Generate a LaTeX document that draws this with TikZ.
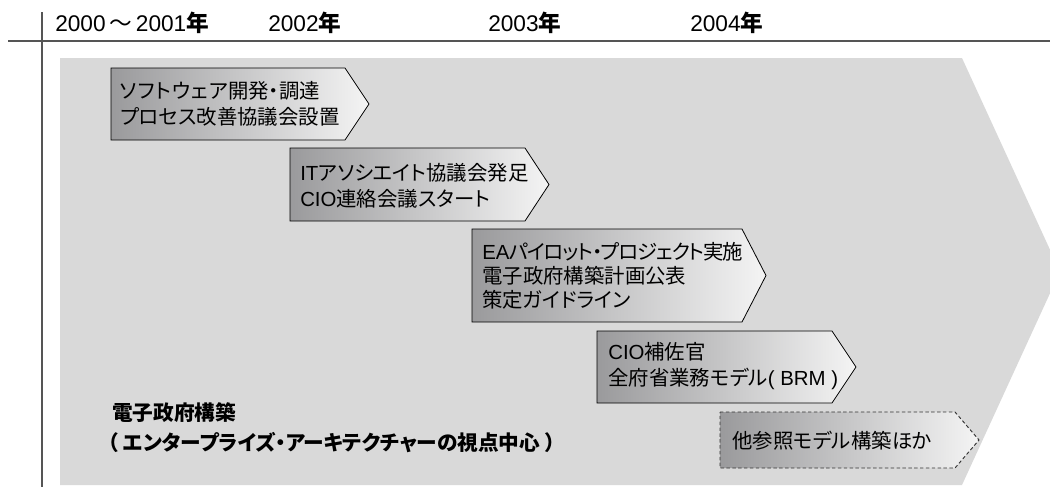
\documentclass[tikz,border=0pt]{standalone}
\usepackage{fontspec}
\setmainfont{Noto Sans CJK JP}[RawFeature=+palt]
\newfontfamily\lat{Liberation Sans}
\definecolor{bg}{HTML}{D9D9D9}
\definecolor{gl}{HTML}{9A9A9C}
\definecolor{gr}{HTML}{F4F4F4}
\definecolor{axiscol}{HTML}{555555}
\newcommand\chevron[6]{\path[#1] (#2,#3) -- (#4,#3) -- (#5,{(#3+#6)/2}) -- (#4,#6) -- (#2,#6) -- cycle;}
\tikzset{
  chev/.style={left color=gl, right color=gr, draw=black, line width=0.6pt},
  chevd/.style={left color=gl, right color=gr, draw=black!80, line width=0.7pt, dash pattern=on 2.6pt off 1.8pt},
  lbl/.style={anchor=west, align=left, inner sep=0pt, font=\fontsize{15.3pt}{19.5pt}\selectfont},
  yr/.style={anchor=west, inner sep=0pt, font=\fontsize{17pt}{19pt}\selectfont},
  ttl/.style={anchor=west, inner sep=0pt, font=\fontsize{15.5pt}{20pt}\selectfont\bfseries},
}
\begin{document}
\begin{tikzpicture}[x=0.75pt,y=-0.75pt]
\useasboundingbox (0,0) rectangle (1050,487);
\begin{scope}
\clip (0,0) rectangle (1050,487);
\fill[bg] (60,58) -- (962,58) -- (1060,271.5) -- (962,485) -- (60,485) -- cycle;
\end{scope}
\draw[axiscol, line width=0.9pt] (8,41) -- (1050,41);
\draw[axiscol, line width=0.9pt] (42,12) -- (42,487);
% years
\node[yr] (y1) at (55,23) {{\lat 2000}\,～\,{\lat 2001}\textbf{年}};
\node[yr] (y2) at (268,23) {{\lat 2002}\textbf{年}};
\node[yr] (y3) at (488,23) {{\lat 2003}\textbf{年}};
\node[yr] (y4) at (690,23) {{\lat 2004}\textbf{年}};
% chevrons
\chevron{chev}{111}{68}{345}{369}{140}
\chevron{chev}{290}{148}{525}{549}{221}
\chevron{chev}{472}{229}{742}{766}{322}
\chevron{chev}{597}{331}{832}{856}{403}
\chevron{chevd}{720}{412}{955}{979}{468}
\node[lbl] (t1) at (120,104) {{\addfontfeature{LetterSpace=4}ソフトウェア}開発・調達\\プロセス改善協議会設置};
\node[lbl] (t2) at (300,186) {{\lat IT}アソシエイト協議会発足\\{\lat CIO}連絡会議スタート};
\node[lbl, font=\fontsize{15.3pt}{18pt}\selectfont] (t3) at (482,276) {{\lat EA}{\addfontfeature{LetterSpace=-6}パイロット・プロジェクト実施}\\電子政府構築計画公表\\策定ガイドライン};
\node[lbl] (t4) at (608,366) {{\lat CIO}補佐官\\全府省業務モデル{\lat( BRM )}};
\node[lbl] (t5) at (732,441) {他参照モデル構築ほか};
% title
\node[ttl] (m1) at (112,413) {電子政府構築};
\node[ttl] (m2) at (108,443) {（ エンタープライズ・アーキテクチャーの視点中心 ）};
\end{tikzpicture}
\end{document}
